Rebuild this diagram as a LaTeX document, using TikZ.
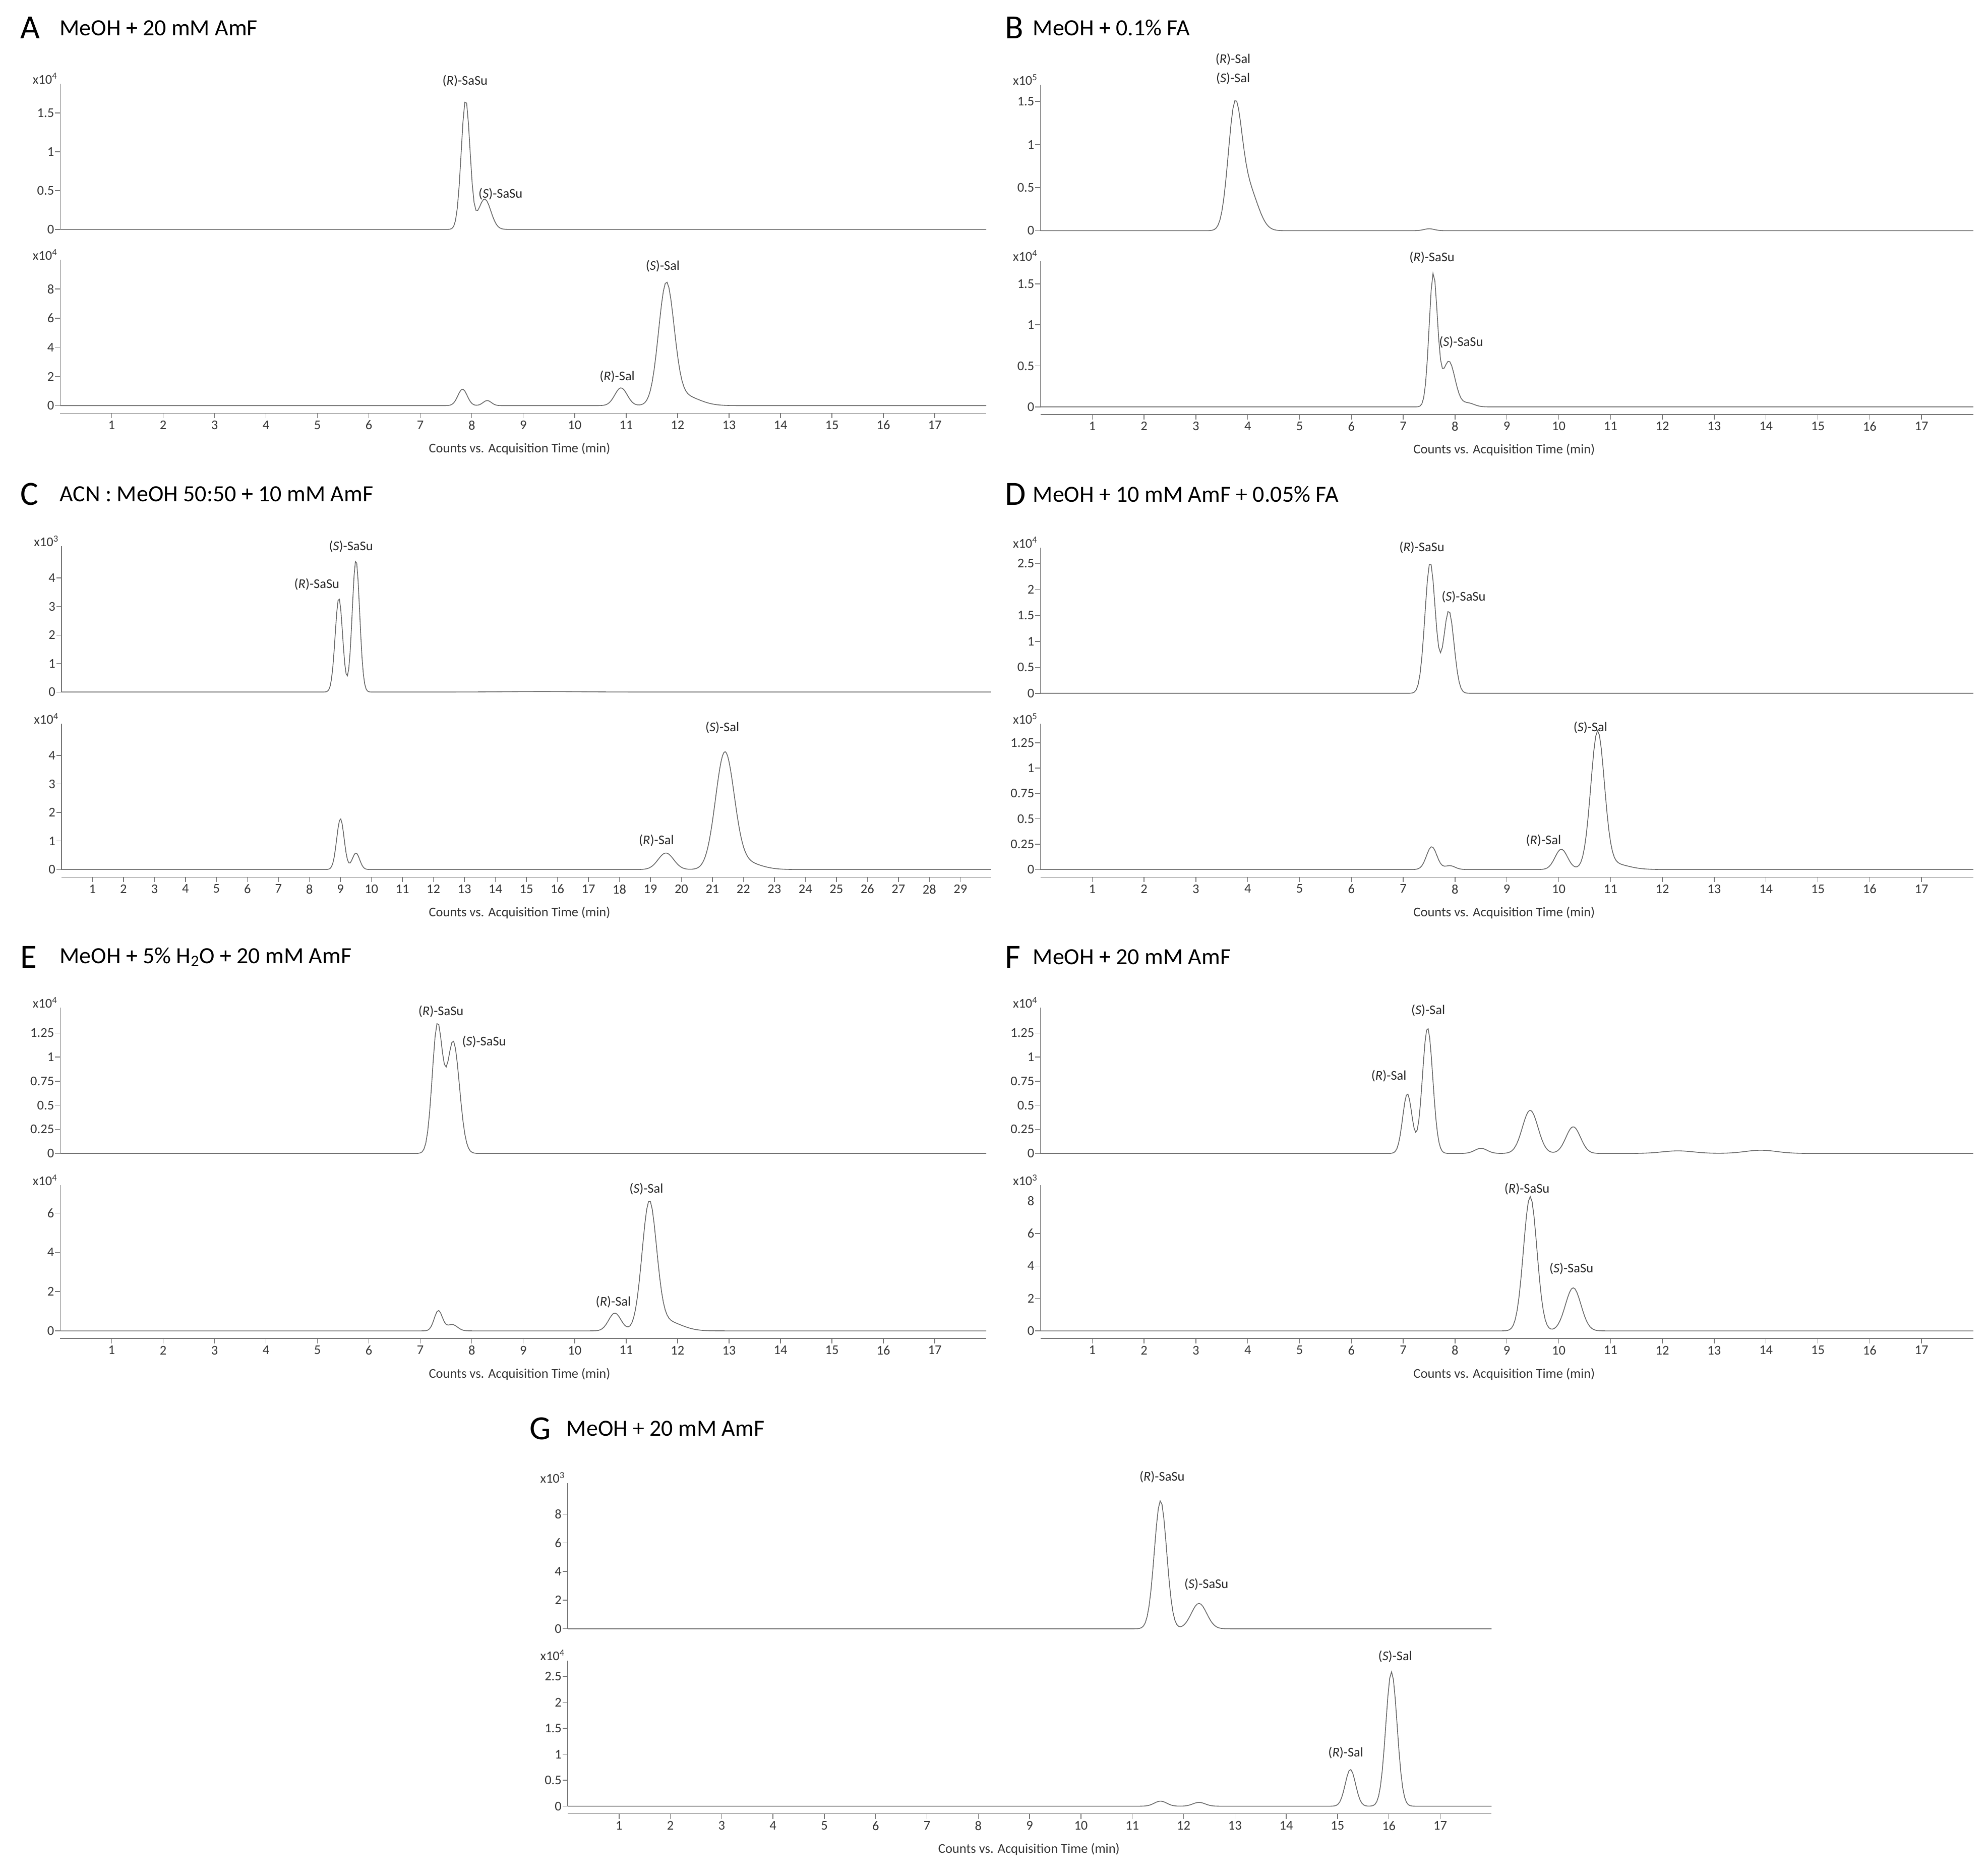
\documentclass[tikz,border=0pt]{standalone}
\usepackage{fontspec}
\setmainfont{Carlito}
\begin{document}
\begin{tikzpicture}[x=0.5mm,y=0.5mm,
  declare function={pk(\t,\m,\s,\h)=\h*exp(-0.5*(min(abs(\t-\m)/\s,4.2))^2);},
  trace/.style={draw=black!60,line width=0.9pt},
  axisln/.style={draw=black!55,line width=0.8pt},
  ticklab/.style={font=\fontsize{15}{15}\selectfont,text=black!80,inner sep=1pt},
  pklab/.style={font=\fontsize{15}{15}\selectfont,text=black!85,inner sep=0pt},
  ttl/.style={font=\fontsize{26}{26}\selectfont,anchor=west,inner sep=0pt},
  letter/.style={font=\fontsize{38}{38}\selectfont,anchor=west,inner sep=0pt},
  cnt/.style={font=\fontsize{15}{15}\selectfont,text=black!80,inner sep=0pt}]
\useasboundingbox[fill=white] (0,0) rectangle (1568,-1480);
% y axis: x, zero, ppu, exponent, ticks
\newcommand\yax[5]{%
  \draw[axisln] (#1,-#2) -- (#1,-#2+115);
  \node[ticklab,anchor=south] (e#1#2) at (#1-12,-#2+114) {x10\textsuperscript{#4}};
  \foreach \v in {#5}{\draw[axisln] (#1-4,-#2+\v*#3) -- (#1,-#2+\v*#3);
    \node[ticklab,anchor=east] (t#1#2\v) at (#1-4,-#2+\v*#3) {\v};}}
% x axis: x0, y, ppm, xmax, nticks, counts centre
\newcommand\xax[6]{%
  \draw[axisln] (#1,-#2) -- (#1+#4*#3,-#2);
  \foreach \k in {1,...,#5}{\draw[axisln] (#1+\k*#3,-#2) -- (#1+\k*#3,-#2-4);
    \node[ticklab,anchor=north] (x#1#2\k) at (#1+\k*#3,-#2-5) {\k};}
  \node[cnt] (c#1#2) at (#6,-#2-28) {Counts vs. Acquisition Time (min)};}
% ---------- A
\node[letter] (LA) at (16,-22) {A}; \node[ttl] (TA) at (47,-22) {MeOH + 20 mM AmF};
\yax{47.5}{181}{61.3}{4}{0,0.5,1,1.5}
\yax{47.5}{320}{11.5}{4}{0,2,4,6,8}
\begin{scope}[shift={(47.5,-181)},x=20.3mm]
\draw[trace] plot[domain=0:18,samples=500] (\x,{pk(\x,7.88,0.085,102)+pk(\x,8.25,0.12,24)});
\end{scope}
\begin{scope}[shift={(47.5,-320)},x=20.3mm]
\draw[trace] plot[domain=0:18,samples=500] (\x,{pk(\x,7.82,0.09,13)+pk(\x,8.3,0.08,4)+pk(\x,10.9,0.12,14)+pk(\x,11.78,0.15,93)+pk(\x,12.1,0.3,8)});
\end{scope}
\xax{47.5}{326}{40.6}{18}{17}{410}
\node[pklab] (a1) at (367,-64) {(\textit{R})-SaSu};
\node[pklab] (a2) at (395,-153) {(\textit{S})-SaSu};
\node[pklab] (a3) at (487,-297) {(\textit{R})-Sal};
\node[pklab] (a4) at (523,-210) {(\textit{S})-Sal};
% ---------- B
\node[letter] (LB) at (793,-22) {B}; \node[ttl] (TB) at (815,-22) {MeOH + 0.1\% FA};
\yax{821}{182}{68}{5}{0,0.5,1,1.5}
\yax{821}{321}{64.7}{4}{0,0.5,1,1.5}
\begin{scope}[shift={(821,-182)},x=20.45mm]
\draw[trace] plot[domain=0:18,samples=500] (\x,{pk(\x,3.75,0.13,92)+pk(\x,4.02,0.18,32)+pk(\x,7.5,0.1,1.5)});
\end{scope}
\begin{scope}[shift={(821,-321)},x=20.45mm]
\draw[trace] plot[domain=0:18,samples=500] (\x,{pk(\x,7.58,0.08,104)+pk(\x,7.88,0.12,36)+pk(\x,8.25,0.12,3)});
\end{scope}
\xax{821}{327}{40.9}{18}{17}{1187}
\node[pklab] (b1) at (973,-47) {(\textit{R})-Sal};
\node[pklab] (b2) at (973,-62) {(\textit{S})-Sal};
\node[pklab] (b3) at (1130,-203) {(\textit{R})-SaSu};
\node[pklab] (b4) at (1153,-270) {(\textit{S})-SaSu};
% ---------- C
\node[letter] (LC) at (16,-390) {C}; \node[ttl] (TC) at (47,-390) {ACN : MeOH 50:50 + 10 mM AmF};
\yax{48.5}{546}{22.5}{3}{0,1,2,3,4}
\yax{48.5}{686}{22.5}{4}{0,1,2,3,4}
\begin{scope}[shift={(48.5,-546)},x=12.23mm]
\draw[trace] plot[domain=0:30,samples=700] (\x,{pk(\x,8.95,0.12,74)+pk(\x,9.5,0.12,104)+pk(\x,15.5,1.2,0.4)});
\end{scope}
\begin{scope}[shift={(48.5,-686)},x=12.23mm]
\draw[trace] plot[domain=0:30,samples=700] (\x,{pk(\x,9.0,0.12,40)+pk(\x,9.5,0.12,13)+pk(\x,19.5,0.25,13)+pk(\x,21.4,0.3,90)+pk(\x,22.0,0.5,6)});
\end{scope}
\xax{48.5}{692}{24.46}{30}{29}{410}
\node[pklab] (c1) at (250,-461) {(\textit{R})-SaSu};
\node[pklab] (c2) at (277,-431) {(\textit{S})-SaSu};
\node[pklab] (c3) at (518,-663) {(\textit{R})-Sal};
\node[pklab] (c4) at (570,-574) {(\textit{S})-Sal};
% ---------- D
\node[letter] (LD) at (793,-390) {D}; \node[ttl] (TD) at (815,-390) {MeOH + 10 mM AmF + 0.05\% FA};
\yax{821}{547}{41}{4}{0,0.5,1,1.5,2,2.5}
\yax{821}{686}{80}{5}{0,0.25,0.5,0.75,1,1.25}
\begin{scope}[shift={(821,-547)},x=20.45mm]
\draw[trace] plot[domain=0:18,samples=500] (\x,{pk(\x,7.52,0.1,103)+pk(\x,7.88,0.1,65)});
\end{scope}
\begin{scope}[shift={(821,-686)},x=20.45mm]
\draw[trace] plot[domain=0:18,samples=500] (\x,{pk(\x,7.55,0.1,18)+pk(\x,7.9,0.1,3)+pk(\x,10.05,0.12,16)+pk(\x,10.75,0.13,106)+pk(\x,11.0,0.3,5)});
\end{scope}
\xax{821}{692}{40.9}{18}{17}{1187}
\node[pklab] (d1) at (1122,-432) {(\textit{R})-SaSu};
\node[pklab] (d2) at (1155,-471) {(\textit{S})-SaSu};
\node[pklab] (d3) at (1218,-663) {(\textit{R})-Sal};
\node[pklab] (d4) at (1255,-574) {(\textit{S})-Sal};
% ---------- E
\node[letter] (LE) at (16,-755) {E}; \node[ttl] (TE) at (47,-755) {MeOH + 5\% H\textsubscript{2}O + 20 mM AmF};
\yax{47.5}{910}{76}{4}{0,0.25,0.5,0.75,1,1.25}
\yax{47.5}{1050}{15.5}{4}{0,2,4,6}
\begin{scope}[shift={(47.5,-910)},x=20.3mm]
\draw[trace] plot[domain=0:18,samples=500] (\x,{pk(\x,7.33,0.1,100)+pk(\x,7.64,0.12,88)});
\end{scope}
\begin{scope}[shift={(47.5,-1050)},x=20.3mm]
\draw[trace] plot[domain=0:18,samples=500] (\x,{pk(\x,7.35,0.08,16)+pk(\x,7.62,0.1,5)+pk(\x,10.78,0.12,14)+pk(\x,11.45,0.14,98)+pk(\x,11.75,0.3,8)});
\end{scope}
\xax{47.5}{1056}{40.6}{18}{17}{410}
\node[pklab] (e1) at (348,-798) {(\textit{R})-SaSu};
\node[pklab] (e2) at (382,-822) {(\textit{S})-SaSu};
\node[pklab] (e3) at (484,-1027) {(\textit{R})-Sal};
\node[pklab] (e4) at (510,-938) {(\textit{S})-Sal};
% ---------- F
\node[letter] (LF) at (793,-755) {F}; \node[ttl] (TF) at (815,-755) {MeOH + 20 mM AmF};
\yax{821}{910}{76}{4}{0,0.25,0.5,0.75,1,1.25}
\yax{821}{1050}{12.8}{3}{0,2,4,6,8}
\begin{scope}[shift={(821,-910)},x=20.45mm]
\draw[trace] plot[domain=0:18,samples=600] (\x,{pk(\x,7.08,0.09,47)+pk(\x,7.47,0.1,99)+pk(\x,8.5,0.12,4)+pk(\x,9.45,0.15,34)+pk(\x,10.28,0.14,21)+pk(\x,12.3,0.3,2)+pk(\x,13.9,0.3,2.5)});
\end{scope}
\begin{scope}[shift={(821,-1050)},x=20.45mm]
\draw[trace] plot[domain=0:18,samples=500] (\x,{pk(\x,9.45,0.13,106)+pk(\x,10.28,0.15,34)});
\end{scope}
\xax{821}{1056}{40.9}{18}{17}{1187}
\node[pklab] (f1) at (1096,-849) {(\textit{R})-Sal};
\node[pklab] (f2) at (1127,-797) {(\textit{S})-Sal};
\node[pklab] (f3) at (1205,-938) {(\textit{R})-SaSu};
\node[pklab] (f4) at (1240,-1001) {(\textit{S})-SaSu};
% ---------- G
\node[letter] (LG) at (418,-1127) {G}; \node[ttl] (TG) at (447,-1127) {MeOH + 20 mM AmF};
\yax{448}{1285}{11.3}{3}{0,2,4,6,8}
\yax{448}{1425}{41}{4}{0,0.5,1,1.5,2,2.5}
\begin{scope}[shift={(448,-1285)},x=20.25mm]
\draw[trace] plot[domain=0:18,samples=500] (\x,{pk(\x,11.55,0.12,101)+pk(\x,12.3,0.15,20)});
\end{scope}
\begin{scope}[shift={(448,-1425)},x=20.25mm]
\draw[trace] plot[domain=0:18,samples=500] (\x,{pk(\x,11.55,0.12,4)+pk(\x,12.3,0.12,3)+pk(\x,15.25,0.1,29)+pk(\x,16.05,0.11,106)});
\end{scope}
\xax{448}{1431}{40.5}{18}{17}{812}
\node[pklab] (g1) at (917,-1165) {(\textit{R})-SaSu};
\node[pklab] (g2) at (952,-1250) {(\textit{S})-SaSu};
\node[pklab] (g3) at (1062,-1383) {(\textit{R})-Sal};
\node[pklab] (g4) at (1101,-1307) {(\textit{S})-Sal};
\end{tikzpicture}
\end{document}
